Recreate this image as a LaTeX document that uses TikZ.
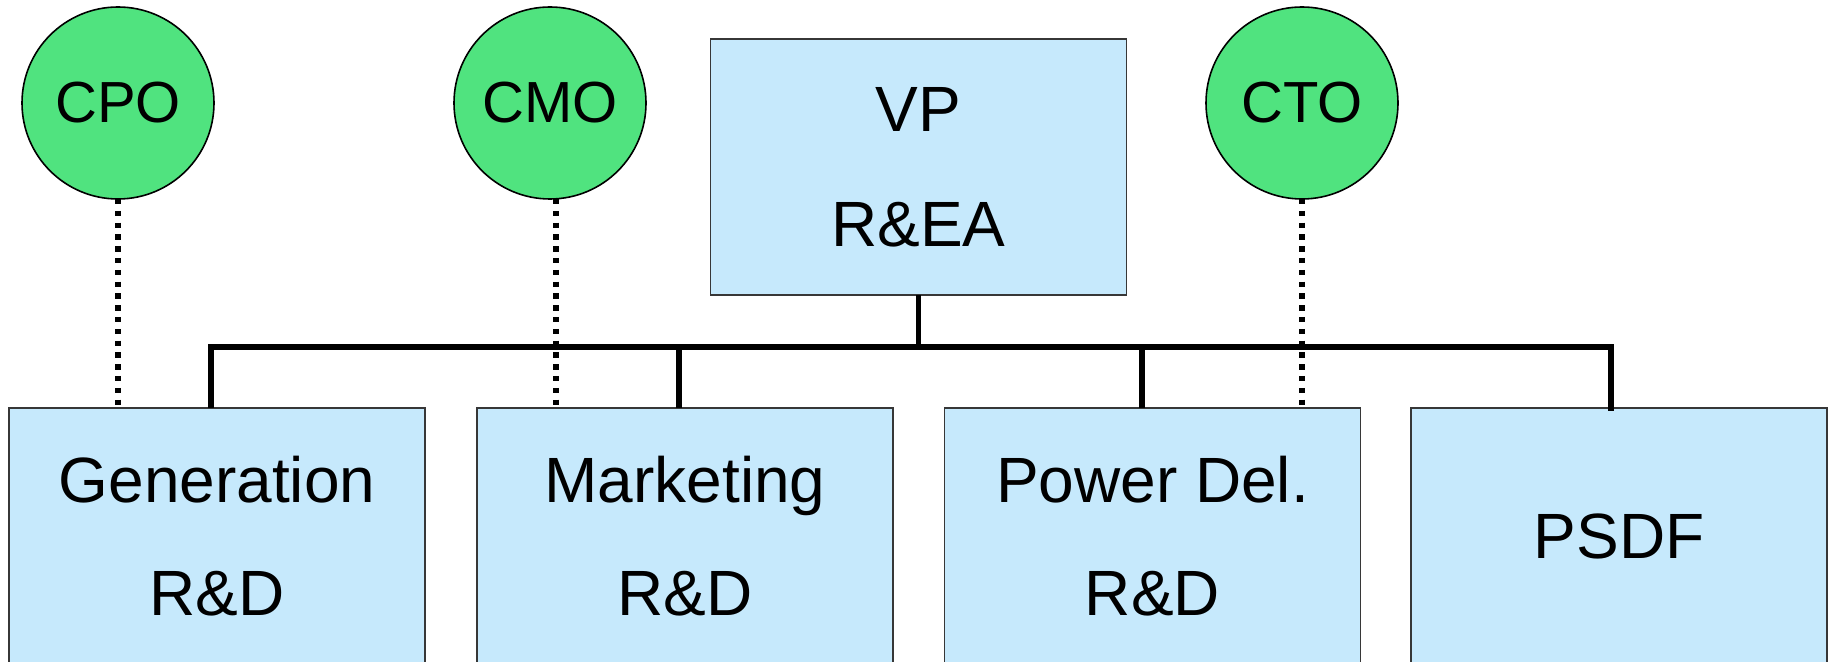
\documentclass[tikz,border=0pt]{standalone}
\usepackage{fontspec}
\setmainfont{Liberation Sans}
\definecolor{unitblue}{RGB}{198,233,252}
\definecolor{chiefgreen}{RGB}{80,227,127}
\definecolor{unitedge}{RGB}{55,55,55}
\begin{document}
\begin{tikzpicture}[x=0.5pt,y=-0.5pt,
  unit/.style={draw=unitedge,line width=0.8pt,fill=unitblue,rectangle,
    minimum width=208pt,minimum height=128pt,inner sep=0pt,outer sep=0pt,
    align=center,font=\fontsize{32pt}{56.5pt}\selectfont},
  chief/.style={draw=black,line width=0.8pt,fill=chiefgreen,circle,
    minimum size=96pt,inner sep=0pt,outer sep=0pt,font=\fontsize{29pt}{34pt}\selectfont},
  tree/.style={draw=black,line width=2.7pt,line join=miter},
  liaison/.style={draw=black,line width=2.8pt,dash pattern=on 2.7pt off 3.2pt}]
\useasboundingbox (0,0) rectangle (1832,662);
\clip (0,0) rectangle (1832,662);

% officers
\node[chief] (cpo) at (118,103) {CPO};
\node[chief] (cmo) at (550,103) {CMO};
\node[chief] (cto) at (1302,103) {CTO};

% head of the group and its four units
\node[unit,font=\fontsize{32pt}{57.5pt}\selectfont] (vp) at (918.5,167) {VP\\R\&EA};
\node[unit] (gen)  at (217,536)    {Generation\\R\&D};
\node[unit] (mkt)  at (685,536)    {Marketing\\R\&D};
\node[unit] (pd)   at (1152.5,536) {Power Del.\\R\&D};
\node[unit] (psdf) at (1619,536)   {PSDF};

% reporting bus
\coordinate (bus) at (0,347);
\draw[tree] ([xshift=-3pt]gen.north) -- ([xshift=-3pt]gen.north |- bus)
  -| ([xshift=-4pt,yshift=-1.5pt]psdf.north);
\draw[tree] (vp.south) -- (vp.south |- bus);
\draw[tree] ([xshift=-3pt]mkt.north) -- ([xshift=-3pt]mkt.north |- bus);
\draw[tree] ([xshift=-5.25pt]pd.north) -- ([xshift=-5.25pt]pd.north |- bus);

% dotted liaison lines
\draw[liaison] (cpo.south) -- (cpo.south |- gen.north);
\draw[liaison] ([xshift=3pt]cmo.south) -- ([xshift=3pt]cmo.south |- mkt.north);
\draw[liaison] (cto.south) -- (cto.south |- pd.north);
\end{tikzpicture}
\end{document}
